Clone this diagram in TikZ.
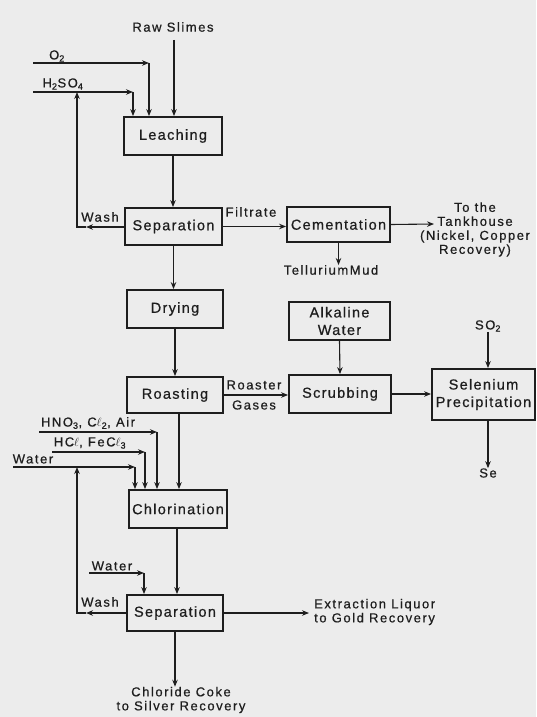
\documentclass[tikz,border=0pt]{standalone}
\usepackage{fontspec}
\setmainfont{Liberation Sans}
\newfontfamily\lblfont[LetterSpace=12,FakeBold=0.6]{Liberation Sans}
\newfontfamily\unitfont[LetterSpace=9,FakeBold=0.6]{Liberation Sans}
\usetikzlibrary{arrows.meta}
\definecolor{paper}{RGB}{236,236,236}
\definecolor{ink}{RGB}{30,30,30}
\begin{document}
\begin{tikzpicture}[x=1pt,y=-1pt,
  unit/.style={draw=ink, line width=1.8pt, rectangle, inner sep=0pt, align=center,
    font=\unitfont\fontsize{14.5}{17.5}\selectfont, text=ink},
  lbl/.style={inner sep=0pt, align=center, font=\lblfont\fontsize{13}{14}\selectfont, text=ink},
  flow/.style={draw=ink, line width=1.1pt, -{Stealth[length=7pt,width=5.5pt]}},
  pipe/.style={draw=ink, line width=1.1pt}]
\useasboundingbox[fill=paper] (0,0) rectangle (536,717);

% process units
\node[unit, minimum width=98pt, minimum height=38pt] (leach) at (173,136) {Leaching};
\node[unit, minimum width=97pt, minimum height=37pt] (sep1) at (173.5,226.5) {Separation};
\node[unit, minimum width=103pt, minimum height=35pt] (cem) at (338.5,224.5) {Cementation};
\node[unit, minimum width=96pt, minimum height=38pt] (dry) at (175,309) {Drying};
\node[unit, minimum width=96pt, minimum height=36pt] (roast) at (175,395) {Roasting};
\node[unit, minimum width=101pt, minimum height=38pt] (alk) at (339.5,321) {Alkaline\\Water};
\node[unit, minimum width=102pt, minimum height=38pt] (scrub) at (340,394) {Scrubbing};
\node[unit, minimum width=103pt, minimum height=51pt] (selen) at (483.5,394.5) {Selenium\\Precipitation};
\node[unit, minimum width=98pt, minimum height=38pt] (chlor) at (178,509) {Chlorination};
\node[unit, minimum width=96pt, minimum height=36pt] (sep2) at (175,613) {Separation};

% stream labels
\node[lbl] (raw) at (173,27) {Raw Slimes};
\node[lbl] at (57,56) {O\textsubscript{2}};
\node[lbl] at (63,84) {H\textsubscript{2}SO\textsubscript{4}};
\node[lbl] at (100,217) {Wash};
\node[lbl] at (251,212) {Filtrate};
\node[lbl] (tank) at (475,229.5) {To the\\Tankhouse\\(Nickel, Copper\\Recovery)};
\node[lbl] (tell) at (331,270) {TelluriumMud};
\node[lbl] at (254,385) {Roaster};
\node[lbl] at (254,405) {Gases};
\node[lbl] (so2) at (488,326) {SO\textsubscript{2}};
\node[lbl] (se) at (488,473) {Se};
\node[lbl] at (88,423) {HNO\textsubscript{3}, C$\ell$\textsubscript{2}, Air};
\node[lbl] at (90,443) {HC$\ell$, FeC$\ell$\textsubscript{3}};
\node[lbl] at (33,459) {Water};
\node[lbl] at (112,566) {Water};
\node[lbl] at (100,602) {Wash};
\node[lbl, align=left, anchor=west] (liq) at (314,612) {Extraction Liquor\\to Gold Recovery};
\node[lbl] (coke) at (181,700) {Chloride Coke\\to Silver Recovery};

% free ends and bends
\coordinate (rawtop) at (174,40);
\coordinate (o2in) at (33,63);
\coordinate (o2bend) at (149,63);
\coordinate (acidin) at (33,92);
\coordinate (acidbend) at (133,92);
\coordinate (washtipA) at (86,227);
\coordinate (washcornerA) at (77,227);
\coordinate (washtopA) at (77,92);
\coordinate (tankin) at (434,224);
\coordinate (nitin) at (39,432);
\coordinate (nitbend) at (157,432);
\coordinate (hclin) at (52,452);
\coordinate (hclbend) at (145,452);
\coordinate (waterin) at (13,467);
\coordinate (waterbend) at (135,467);
\coordinate (waterBin) at (89,573);
\coordinate (waterBbend) at (144,573);
\coordinate (washtipB) at (86,613);
\coordinate (washcornerB) at (77,613);
\coordinate (washtopB) at (77,467);
\coordinate (liqin) at (309,613);

% leaching feeds
\draw[flow] (rawtop) -- (rawtop |- leach.north);
\draw[flow] (o2in) -- (o2bend);
\draw[flow] (o2bend) -- (o2bend |- leach.north);
\draw[flow] (acidin) -- (acidbend);
\draw[flow] (acidbend) -- (acidbend |- leach.north);

% main line
\draw[flow] (leach.south) -- (leach.south |- sep1.north);
\draw[flow] (sep1.east) -- (sep1.east -| cem.west);
\draw[flow] (cem.east) -- (tankin);
\draw[flow] (cem.south) -- (cem.south |- tell.north);
\draw[flow] (sep1.south) -- (sep1.south |- dry.north);
\draw[flow] (dry.south) -- (dry.south |- roast.north);

% wash return to acid feed
\draw[flow] (washtipA -| sep1.west) -- (washtipA);
\draw[flow] (washtipA) -- (washcornerA) -- (washtopA);

% gas treatment
\draw[flow] (roast.east) -- (roast.east -| scrub.west);
\draw[flow] (alk.south) -- (scrub.north);
\draw[flow] (scrub.east) -- (scrub.east -| selen.west);
\draw[flow] (so2.south) -- (so2.south |- selen.north);
\draw[flow] (so2.south |- selen.south) -- (se.north);

% chlorination feeds
\draw[flow] (nitin) -- (nitbend);
\draw[flow] (nitbend) -- (nitbend |- chlor.north);
\draw[flow] (hclin) -- (hclbend);
\draw[flow] (hclbend) -- (hclbend |- chlor.north);
\draw[flow] (waterin) -- (waterbend);
\draw[flow] (waterbend) -- (waterbend |- chlor.north);
\draw[flow] (roast.south -| 179,0) -- (chlor.north -| 179,0);

% second separation
\draw[flow] (chlor.south -| 177,0) -- (sep2.north -| 177,0);
\draw[flow] (waterBin) -- (waterBbend);
\draw[flow] (waterBbend) -- (waterBbend |- sep2.north);
\draw[flow] (washtipB -| sep2.west) -- (washtipB);
\draw[flow] (washtipB) -- (washcornerB) -- (washtopB);
\draw[flow] (sep2.east) -- (liqin);
\draw[flow] (sep2.south) -- (sep2.south |- coke.north);
\end{tikzpicture}
\end{document}
